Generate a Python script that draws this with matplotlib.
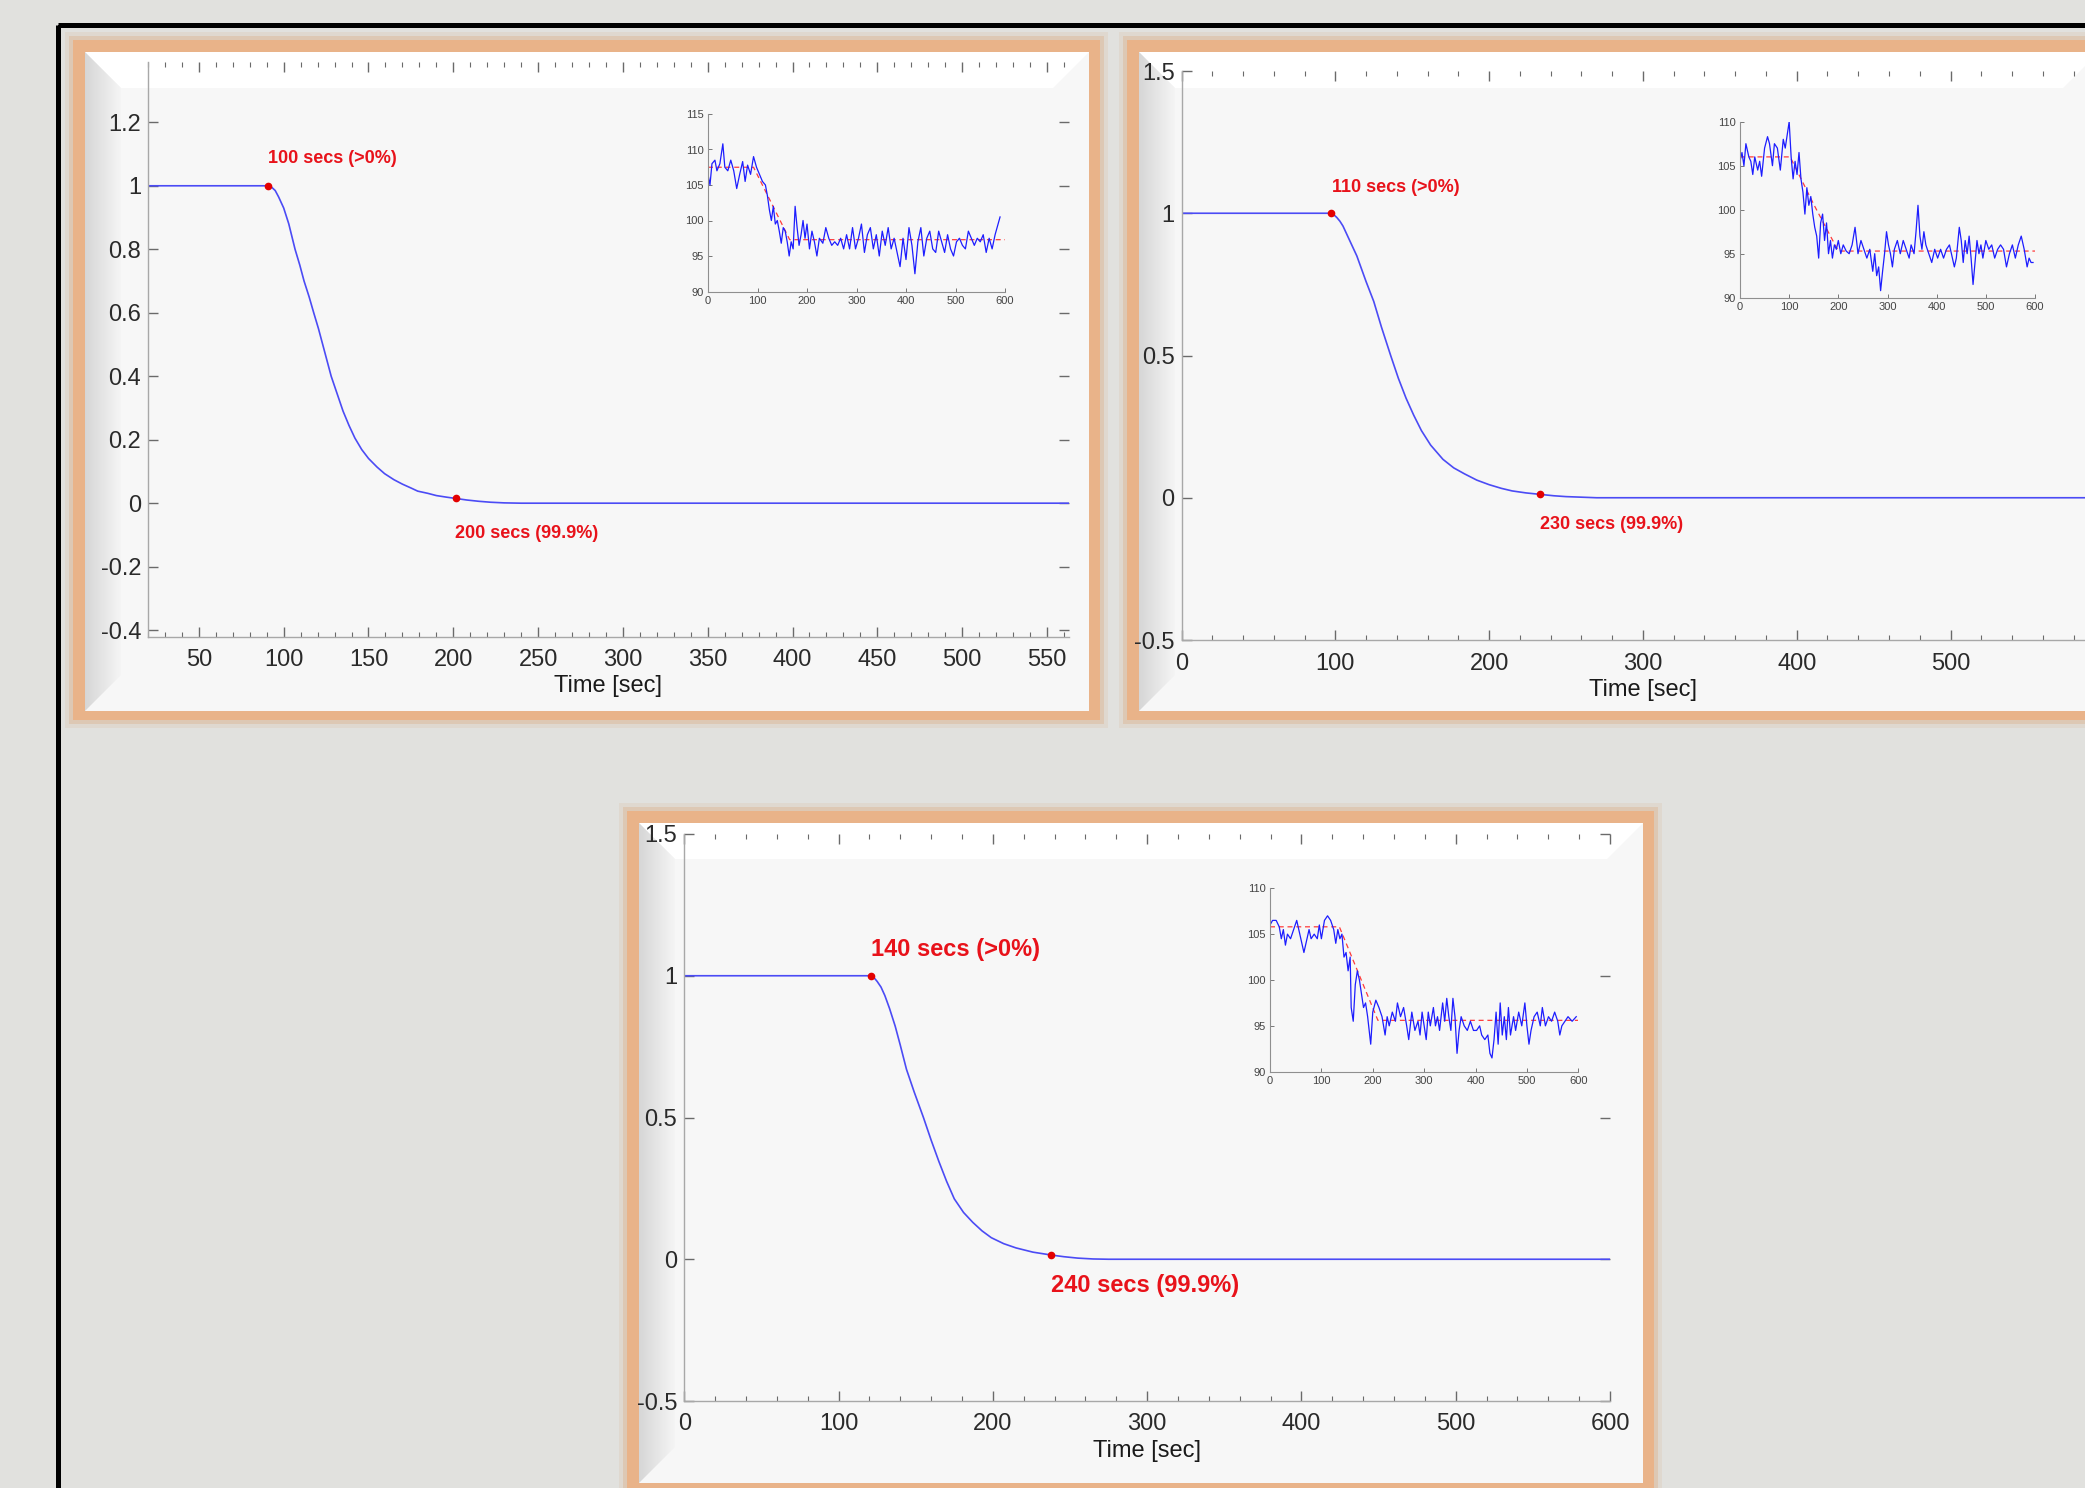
import numpy as np
import matplotlib.pyplot as plt
from matplotlib.patches import Rectangle, Polygon
from matplotlib.ticker import MultipleLocator

plt.rcParams['font.family'] = ['Liberation Sans', 'DejaVu Sans']

# ---------------- values ----------------
# normalised responses (main plots)
t_a = [20, 91, 93, 95, 97, 100, 103, 106.7, 109.5, 112, 115, 117.7, 120.5, 123, 125.5, 128, 131.5, 135,
       138.5, 142, 146, 150, 155, 159.5, 165, 170, 175, 179, 185, 190, 196, 201.4, 208, 215, 222, 230, 240, 563]
y_a = [1, 1, 0.995, 0.985, 0.965, 0.93, 0.88, 0.8, 0.75, 0.7, 0.65, 0.6, 0.55, 0.5, 0.45, 0.4, 0.345, 0.29,
       0.245, 0.205, 0.169, 0.141, 0.114, 0.093, 0.074, 0.06, 0.048, 0.038, 0.031, 0.024, 0.019, 0.015, 0.01,
       0.006, 0.003, 0.001, 0, 0]
mark_a_t = [91, 201.4]
mark_a_y = [1.0, 0.015]
lab_a = ['100 secs (>0%)', '200 secs (99.9%)']

t_b = [0, 97, 99, 101, 103, 105, 108, 111, 114, 117, 120, 125, 130, 136, 141, 146, 151, 156, 162, 170,
       177, 184, 192, 200, 208, 215, 224, 233, 242, 250, 260, 270, 600]
y_b = [1, 1, 0.995, 0.985, 0.972, 0.955, 0.92, 0.885, 0.85, 0.805, 0.76, 0.69, 0.6, 0.5, 0.42, 0.35, 0.29,
       0.236, 0.185, 0.135, 0.105, 0.084, 0.062, 0.046, 0.033, 0.024, 0.017, 0.012, 0.007, 0.004, 0.002, 0, 0]
mark_b_t = [97, 233]
mark_b_y = [1.0, 0.012]
lab_b = ['110 secs (>0%)', '230 secs (99.9%)']

t_c = [0, 121, 123, 125, 127.5, 130, 133, 136.7, 140, 144, 149, 155, 160, 165, 170, 175, 181, 187, 193,
       199, 207, 215, 226, 237.7, 246, 255, 265, 275, 600]
y_c = [1, 1, 0.993, 0.98, 0.96, 0.93, 0.885, 0.822, 0.755, 0.67, 0.59, 0.5, 0.42, 0.345, 0.275, 0.213,
       0.165, 0.13, 0.1, 0.076, 0.055, 0.04, 0.025, 0.015, 0.009, 0.004, 0.001, 0, 0]
mark_c_t = [121, 237.7]
mark_c_y = [1.0, 0.015]
lab_c = ['140 secs (>0%)', '240 secs (99.9%)']

# measured signals (insets)
ia_t = [0, 4, 8, 14, 18, 24, 30, 34, 40, 46, 52, 58, 64, 70, 75, 80, 86, 92, 98, 104,
        110, 116, 120, 124, 128, 132, 136, 140, 144, 148, 152, 156, 160, 164, 168, 172, 176, 180, 184, 188,
        192, 196, 200, 205, 210, 215, 220, 225, 232, 238, 244, 250, 256, 262, 268, 274, 280, 286, 292, 298,
        304, 310, 316, 322, 328, 334, 340, 346, 352, 358, 364, 370, 376, 382, 388, 394, 400, 406, 412, 418,
        424, 430, 436, 442, 448, 454, 460, 466, 472, 478, 484, 490, 496, 502, 508, 514, 520, 526, 532, 538,
        544, 550, 556, 562, 568, 574, 580, 586, 590]
ia_v = [106.5, 105.0, 108.0, 108.5, 107.0, 108.0, 110.8, 107.5, 107.0, 108.5, 107.0, 104.5, 106.5, 108.3, 105.5, 107.8, 106.5, 109.0, 107.5, 106.5,
        105.5, 105.0, 103.5, 101.5, 100.0, 102.0, 99.5, 100.0, 98.5, 96.8, 99.0, 98.5, 97.0, 95.0, 97.0, 96.0, 102.0, 99.0, 96.5, 98.0,
        100.0, 97.5, 99.5, 96.0, 98.5, 97.0, 95.0, 97.5, 96.8, 99.0, 97.5, 96.5, 97.0, 96.5, 97.5, 96.0, 98.0, 96.0, 99.0, 96.0,
        97.5, 99.5, 95.5, 98.0, 99.0, 96.0, 98.0, 95.0, 98.5, 96.5, 99.0, 96.0, 97.5, 95.5, 93.5, 97.5, 94.5, 99.0, 96.5, 92.5,
        97.0, 99.0, 95.0, 97.5, 98.5, 96.0, 95.5, 98.5, 97.0, 95.5, 98.0, 96.0, 95.0, 97.0, 97.5, 96.5, 96.0, 98.5, 97.5, 96.5,
        97.5, 97.0, 98.0, 95.5, 97.5, 96.0, 98.0, 99.5, 100.5]
ia_ref_t = [0, 92, 165, 600]
ia_ref_v = [107.5, 107.5, 97.3, 97.3]

ib_t = [0, 4, 8, 12, 18, 22, 26, 30, 36, 40, 44, 50, 56, 60, 66, 70, 76, 82, 88, 92,
        96, 100, 104, 108, 112, 116, 120, 124, 128, 132, 136, 140, 144, 148, 152, 156, 160, 164, 168, 172,
        176, 180, 184, 188, 192, 196, 200, 205, 210, 216, 222, 228, 234, 240, 246, 252, 258, 264, 270, 274,
        278, 282, 286, 290, 294, 298, 302, 306, 310, 314, 320, 326, 332, 338, 344, 348, 354, 358, 362, 366,
        370, 374, 378, 384, 390, 396, 402, 408, 414, 420, 426, 432, 436, 440, 446, 450, 454, 458, 462, 466,
        470, 474, 478, 482, 486, 490, 494, 500, 506, 512, 518, 524, 530, 536, 542, 548, 554, 560, 566, 572,
        578, 584, 588, 592, 596]
ib_v = [105.5, 106.5, 105.0, 107.5, 106.0, 105.5, 104.0, 106.0, 104.5, 105.5, 103.8, 107.0, 108.3, 107.5, 105.0, 107.5, 107.0, 104.5, 108.0, 107.0,
        108.5, 110.0, 106.0, 103.5, 105.5, 104.0, 106.5, 103.5, 102.0, 99.5, 102.5, 100.5, 101.5, 99.5, 98.0, 97.0, 94.5, 98.5, 99.5, 96.5,
        98.5, 95.0, 96.5, 94.5, 96.0, 95.5, 96.5, 95.0, 96.0, 95.3, 95.0, 96.0, 98.0, 95.0, 96.5, 95.5, 94.5, 95.5, 93.0, 95.0,
        92.5, 93.5, 90.8, 93.0, 95.0, 97.5, 96.0, 95.0, 93.5, 95.5, 96.5, 95.0, 96.5, 95.5, 94.5, 96.0, 95.0, 97.5, 100.5, 97.0,
        95.5, 97.5, 96.0, 95.0, 94.0, 95.5, 94.5, 95.5, 94.5, 95.5, 96.0, 94.5, 93.5, 94.5, 98.0, 96.5, 94.0, 96.5, 95.0, 97.0,
        94.5, 91.5, 94.0, 96.5, 95.0, 96.0, 94.5, 96.5, 95.5, 96.0, 94.5, 95.5, 96.0, 95.5, 93.5, 95.0, 96.0, 94.5, 96.0, 97.0,
        95.5, 93.5, 94.5, 94.0, 94.0]
ib_ref_t = [0, 102, 150, 200, 600]
ib_ref_v = [106.0, 106.0, 100.6, 95.3, 95.3]

ic_t = [0, 5, 12, 18, 22, 26, 30, 34, 40, 46, 52, 56, 60, 66, 70, 76, 80, 86, 92, 96,
        100, 106, 112, 118, 124, 128, 132, 136, 140, 144, 148, 152, 156, 158, 162, 166, 170, 174, 178, 182,
        186, 190, 196, 200, 206, 212, 218, 224, 228, 232, 238, 244, 248, 254, 260, 266, 270, 276, 282, 288,
        292, 296, 300, 304, 308, 312, 318, 322, 326, 330, 336, 340, 344, 348, 352, 356, 360, 364, 368, 372,
        378, 384, 390, 396, 402, 408, 412, 418, 424, 428, 432, 436, 440, 444, 448, 452, 456, 460, 464, 468,
        474, 478, 484, 490, 496, 500, 504, 508, 514, 520, 526, 530, 536, 542, 548, 554, 560, 564, 568, 574,
        580, 588, 596]
ic_v = [106.0, 106.5, 106.5, 105.8, 104.5, 105.5, 103.8, 105.0, 104.5, 105.5, 106.5, 105.5, 104.5, 103.0, 104.0, 105.5, 104.5, 105.0, 104.5, 106.0,
        104.5, 106.5, 107.0, 106.5, 105.5, 104.0, 105.5, 104.5, 105.0, 102.5, 103.0, 101.0, 102.5, 97.0, 95.5, 99.5, 101.0, 100.0, 98.5, 97.0,
        97.5, 96.0, 93.0, 96.5, 97.8, 97.0, 96.0, 94.0, 96.0, 95.0, 96.5, 95.5, 97.5, 96.0, 97.0, 95.0, 93.5, 96.5, 94.5, 95.5,
        94.0, 96.5, 95.0, 93.5, 96.5, 95.0, 97.0, 95.0, 96.0, 94.5, 97.5, 95.5, 98.0, 96.0, 94.5, 98.0, 96.0, 92.0, 94.5, 96.0,
        95.0, 94.5, 95.5, 94.5, 94.5, 95.0, 94.0, 93.5, 94.0, 92.0, 91.5, 93.5, 96.5, 93.0, 97.5, 94.0, 96.0, 93.5, 97.0, 94.0,
        96.0, 94.5, 96.5, 95.0, 97.5, 95.0, 93.0, 94.5, 96.0, 96.5, 95.0, 97.0, 95.0, 96.0, 95.5, 96.5, 95.5, 94.0, 95.0, 95.5,
        96.0, 95.5, 96.0]
ic_ref_t = [0, 135, 210, 600]
ic_ref_v = [105.8, 105.8, 95.6, 95.6]

# tick labels
ya_ticks = [-0.4, -0.2, 0, 0.2, 0.4, 0.6, 0.8, 1, 1.2]
ya_labels = ['-0.4', '-0.2', '0', '0.2', '0.4', '0.6', '0.8', '1', '1.2']
yb_ticks = [-0.5, 0, 0.5, 1, 1.5]
yb_labels = ['-0.5', '0', '0.5', '1', '1.5']
xa_ticks = [50, 100, 150, 200, 250, 300, 350, 400, 450, 500, 550]
xb_ticks = [0, 100, 200, 300, 400, 500, 600]

# ---------------- figure / decoration ----------------
W, H = 2085, 1488
fig = plt.figure(figsize=(W / 100, H / 100), dpi=100)
fig.patch.set_facecolor('#e1e1de')

bg = fig.add_axes([0, 0, 1, 1])
bg.set_autoscale_on(False)
bg.set_xlim(0, W)
bg.set_ylim(H, 0)
bg.axis('off')
bg.set_zorder(0)


def px_box(l, t, r, b):
    return [l / W, 1 - b / H, (r - l) / W, (b - t) / H]


def draw_panel(l, t, r, b):
    for g, a in [(8, 0.12), (4, 0.25)]:
        bg.add_patch(Rectangle((l - g, t - g), r - l + 2 * g, b - t + 2 * g,
                               color='#d89a66', alpha=a, lw=0))
    bg.add_patch(Rectangle((l, t), r - l, b - t, color='#e9b389', lw=0))
    il, it, ir, ib = l + 12, t + 12, r - 11, b - 9
    bg.add_patch(Rectangle((il, it), ir - il, ib - it, color='#f7f7f7', lw=0))
    bw = 36
    bg.add_patch(Polygon([(il, it), (ir, it), (ir - bw, it + bw), (il + bw, it + bw)],
                         color='#ffffff', lw=0))
    g = np.linspace(0.84, 0.96, 60)
    img = np.dstack([g, g, g])
    im = bg.imshow(img, extent=(il, il + bw, ib, it), aspect='auto', zorder=2)
    clip = Polygon([(il, it), (il + bw, it + bw), (il + bw, ib - bw), (il, ib)],
                   transform=bg.transData)
    im.set_clip_path(clip)


draw_panel(73, 40, 1100, 720)
draw_panel(1127, 40, 2110, 720)
draw_panel(627, 811, 1654, 1492)

# black outer frame (runs off the right and bottom edges)
bg.add_patch(Rectangle((57.5, 24.5), 3000, 3000, fill=False, ec='black', lw=3.6, zorder=3))


def main_plot(box, t, y, mt, my, labels, lab_pos, fs_lab, xlim, ylim, xt, yt, ylab, xminor):
    ax = fig.add_axes(px_box(*box))
    ax.set_zorder(1)
    ax.set_facecolor('none')
    ax.plot(t, y, color='#4b4bf5', lw=1.2)
    ax.plot(mt, my, 'o', color='#e30000', ms=4.5)
    for s, (x0, y0) in zip(labels, lab_pos):
        ax.text(x0, y0, s, color='#e8121a', fontsize=fs_lab, fontweight='bold',
                ha='left', va='center')
    ax.set_xlim(*xlim)
    ax.set_ylim(*ylim)
    ax.set_xticks(xt)
    ax.set_xticklabels([str(v) for v in xt])
    ax.set_yticks(yt)
    ax.set_yticklabels(ylab)
    ax.xaxis.set_minor_locator(MultipleLocator(xminor))
    for s in ['top', 'right']:
        ax.spines[s].set_visible(False)
    for s in ['left', 'bottom']:
        ax.spines[s].set_color('#a8a8a8')
        ax.spines[s].set_linewidth(1.0)
    ax.tick_params(which='both', direction='in', top=True, right=True, color='#6a6a6a')
    ax.tick_params(which='major', length=7, width=1, labelsize=17, labelcolor='#2a2a2a')
    ax.tick_params(which='minor', length=3.5, width=0.8)
    ax.tick_params(axis='x', pad=9)
    ax.tick_params(axis='y', pad=5)
    ax.set_xlabel('Time [sec]', fontsize=17, color='#1a1a1a', labelpad=3)
    return ax


def inset_plot(box, t, v, rt, rv, ylim, yt):
    ax = fig.add_axes(px_box(*box))
    ax.set_zorder(2)
    ax.set_facecolor('none')
    ax.plot(rt, rv, color='#ff3b3b', lw=0.9, dashes=(4, 3))
    ax.plot(t, v, color='#1d1dff', lw=0.9)
    ax.set_xlim(0, 600)
    ax.set_ylim(*ylim)
    ax.set_xticks(xb_ticks)
    ax.set_yticks(yt)
    for s in ['top', 'right']:
        ax.spines[s].set_visible(False)
    for s in ['left', 'bottom']:
        ax.spines[s].set_color('#8f8f8f')
        ax.spines[s].set_linewidth(0.8)
    ax.tick_params(direction='in', length=3, width=0.7, color='#777777',
                   labelsize=8, labelcolor='#444444', pad=3)
    return ax


main_plot((148, 62, 1069, 636.5), t_a, y_a, mark_a_t, mark_a_y, lab_a,
          [(91, 1.087), (201, -0.096)], 13, (20, 563), (-0.42, 1.39),
          xa_ticks, ya_ticks, ya_labels, 10)
main_plot((1181.5, 71, 2104.3, 640), t_b, y_b, mark_b_t, mark_b_y, lab_b,
          [(98, 1.09), (233, -0.095)], 13, (0, 600), (-0.5, 1.5),
          xb_ticks, yb_ticks, yb_labels, 20)
main_plot((684.3, 834, 1610, 1401), t_c, y_c, mark_c_t, mark_c_y, lab_c,
          [(121, 1.093), (237.7, -0.091)], 17, (0, 600), (-0.5, 1.5),
          xb_ticks, yb_ticks, yb_labels, 20)

inset_plot((708, 114, 1005, 291.5), ia_t, ia_v, ia_ref_t, ia_ref_v, (90, 115),
           [90, 95, 100, 105, 110, 115])
inset_plot((1740, 121.7, 2035, 297.7), ib_t, ib_v, ib_ref_t, ib_ref_v, (90, 110),
           [90, 95, 100, 105, 110])
inset_plot((1270, 888.3, 1578.3, 1071.7), ic_t, ic_v, ic_ref_t, ic_ref_v, (90, 110),
           [90, 95, 100, 105, 110])

fig.savefig('out.png', dpi=100, facecolor=fig.get_facecolor())
